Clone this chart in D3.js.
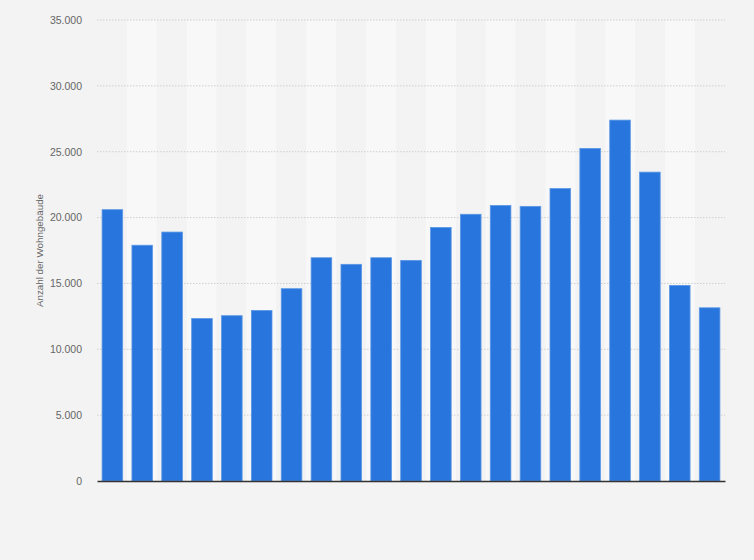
<!DOCTYPE html>
<html>
<head>
<meta charset="utf-8">
<script src="https://cdn.jsdelivr.net/npm/d3@7"></script>
<style>
  html, body { margin: 0; padding: 0; background: #f3f3f3; }
  svg { display: block; font-family: "Liberation Sans", Arial, sans-serif; }
</style>
</head>
<body>
<svg id="chart" width="754" height="560"></svg>
<script>
const categories = ["2000","2001","2002","2003","2004","2005","2006","2007","2008","2009","2010",
                    "2011","2012","2013","2014","2015","2016","2017","2018","2019","2020"];
const values = [20600, 17900, 18900, 12330, 12550, 12950, 14600, 16950, 16450, 16950, 16750,
                19250, 20250, 20920, 20850, 22200, 25250, 27400, 23450, 14850, 13150];
const yTicks = [0, 5000, 10000, 15000, 20000, 25000, 30000, 35000];
const yTitle = "Anzahl der Wohngebäude";

const svg = d3.select("#chart");
const margin = {left: 97, right: 29, top: 20, bottom: 79};
const W = 754, H = 560;
const iw = W - margin.left - margin.right;
const ih = H - margin.top - margin.bottom;

const g = svg.append("g").attr("transform", `translate(${margin.left},${margin.top})`);

const x = d3.scaleBand().domain(categories).range([0, iw]).paddingInner(0.31).paddingOuter(0.17);
const y = d3.scaleLinear().domain([0, 35000]).range([ih, 0]);

// alternating column stripes
const step = iw / categories.length;
g.append("g").selectAll("rect").data(categories).join("rect")
  .attr("x", (d, i) => i * step)
  .attr("y", 0)
  .attr("width", step)
  .attr("height", ih)
  .attr("fill", (d, i) => i % 2 === 1 ? "#f8f8f8" : "#f3f3f3");

// gridlines
g.append("g").selectAll("line").data(yTicks.filter(t => t > 0)).join("line")
  .attr("x1", 0).attr("x2", iw)
  .attr("y1", d => y(d)).attr("y2", d => y(d))
  .attr("stroke", "#cfcfcf")
  .attr("stroke-width", 1)
  .attr("stroke-dasharray", "1.5,1.5");

// y axis labels
const fmt = d => d3.format(",")(d).replace(/,/g, ".");
const yAxis = d3.axisLeft(y).tickValues(yTicks).tickFormat(fmt).tickSize(0).tickPadding(15);
const ya = g.append("g").call(yAxis);
ya.select(".domain").remove();
ya.selectAll("text").attr("fill", "#666").style("font-size", "10.5px");

// bars
g.append("g").selectAll("rect").data(values).join("rect")
  .attr("x", (d, i) => x(categories[i]))
  .attr("y", d => y(d))
  .attr("width", x.bandwidth())
  .attr("height", d => ih - y(d))
  .attr("fill", "#2876dd")
  .attr("stroke", "#5b97e6")
  .attr("stroke-width", 0.8);

// x axis line
const xAxis = d3.axisBottom(x).tickSize(0).tickFormat("");
const xa = g.append("g").attr("transform", `translate(0,${ih})`).call(xAxis);
xa.select(".domain").attr("stroke", "#333").attr("stroke-width", 1.5);

// y title
svg.append("text")
  .attr("transform", `translate(43,${margin.top + ih / 2}) rotate(-90)`)
  .attr("text-anchor", "middle")
  .attr("fill", "#666")
  .style("font-size", "9.8px")
  .text(yTitle);
</script>
</body>
</html>
